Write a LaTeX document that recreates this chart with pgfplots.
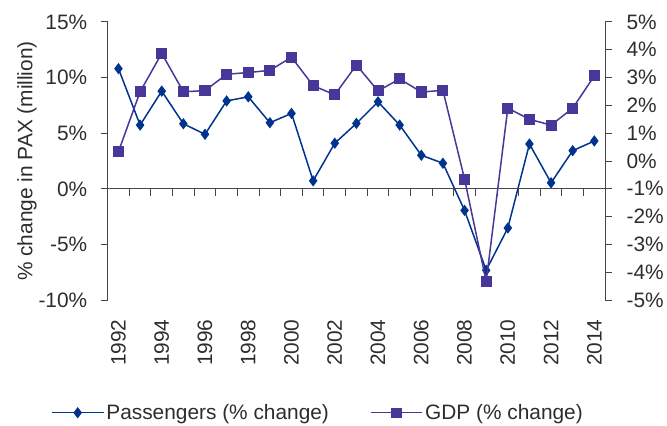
\documentclass[border=0pt]{standalone}
\usepackage{pgfplots}
\pgfplotsset{compat=1.18}
\usepackage{fontspec}
\setmainfont{Liberation Sans}

\definecolor{paxblue}{RGB}{0,51,141}
\definecolor{gdppurple}{RGB}{72,54,153}
\definecolor{axisgray}{RGB}{70,70,70}
\definecolor{textgray}{RGB}{45,45,45}

\pgfplotsset{
  base/.style={
    scale only axis, width=499bp, height=279bp,
    xmin=1991.5, xmax=2014.5,
    clip=false,
    axis line style={axisgray, line width=1bp},
    tick style={axisgray, line width=1bp},
    major tick length=7bp,
    tick align=outside,
    tick label style={textgray},
    every axis plot/.append style={line width=1.5bp},
  },
}

\begin{document}
\begin{tikzpicture}[font=\fontsize{21}{25}\selectfont]
% left axis: passengers
\begin{axis}[base,
    axis y line*=left, axis x line=none,
    ymin=-10, ymax=15,
    ytick={-10,-5,0,5,10,15},
    yticklabels={-10\%,-5\%,0\%,5\%,10\%,15\%},
    yticklabel style={xshift=-10bp},
    ylabel={\% change in PAX (million)},
    ylabel style={textgray},
    ylabel shift=-5bp,
    legend columns=2,
    legend style={at={(0,0)}, anchor=west, xshift=-60bp, yshift=-113bp,
        draw=none, fill=none, textgray,
        /tikz/every even column/.append style={column sep=39bp}},
    legend image code/.code={\draw[mark repeat=2, mark phase=2]
        plot coordinates {(0bp,0bp) (26bp,0bp) (52bp,0bp)};},
]
\addplot[paxblue, mark=diamond*, mark size=4.5bp] coordinates {
    (1992,10.8) (1993,5.73) (1994,8.78) (1995,5.85) (1996,4.9)
    (1997,7.9) (1998,8.27) (1999,5.94) (2000,6.78) (2001,0.72)
    (2002,4.1) (2003,5.88) (2004,7.82) (2005,5.73) (2006,3.02)
    (2007,2.3) (2008,-1.94) (2009,-7.32) (2010,-3.52) (2011,4.03)
    (2012,0.54) (2013,3.43) (2014,4.3)
};
\addlegendentry{Passengers (\% change)}
\addlegendimage{gdppurple, mark=square*, mark size=4.5bp, line width=1.5bp}
\addlegendentry{GDP (\% change)}
\coordinate (bl) at (rel axis cs:0,0);
\end{axis}
% zero line of the left axis, with a tick at each year boundary
\begin{axis}[base, at={(0,111.6bp)}, height=167.4bp,
    axis y line=none, axis x line*=bottom,
    ymin=0, ymax=1,
    xtick={1991.5,1992.5,...,2014.5},
    xticklabels={},
]
\end{axis}
% right axis: GDP, year labels
\begin{axis}[base,
    axis y line*=right, axis x line*=bottom,
    x axis line style={draw=none},
    ymin=-5, ymax=5,
    ytick={-5,-4,...,5},
    yticklabels={-5\%,-4\%,-3\%,-2\%,-1\%,0\%,1\%,2\%,3\%,4\%,5\%},
    yticklabel style={xshift=11bp},
    xtick={1992,1994,...,2014},
    xticklabels={1992,1994,1996,1998,2000,2002,2004,2006,2008,2010,2012,2014},
    xtick style={draw=none},
    xticklabel style={rotate=90, anchor=east},
    xticklabel shift=9bp,
]
\addplot[gdppurple, mark=square*, mark size=4.8bp] coordinates {
    (1992,0.34) (1993,2.49) (1994,3.87) (1995,2.49) (1996,2.53)
    (1997,3.12) (1998,3.18) (1999,3.26) (2000,3.73) (2001,2.71)
    (2002,2.38) (2003,3.45) (2004,2.52) (2005,2.95) (2006,2.48)
    (2007,2.54) (2008,-0.65) (2009,-4.33) (2010,1.9) (2011,1.5)
    (2012,1.29) (2013,1.9) (2014,3.06)
};
\end{axis}
\path (bl) ++(-108bp,-126bp) rectangle ++(667bp,427bp);
\end{tikzpicture}
\end{document}
